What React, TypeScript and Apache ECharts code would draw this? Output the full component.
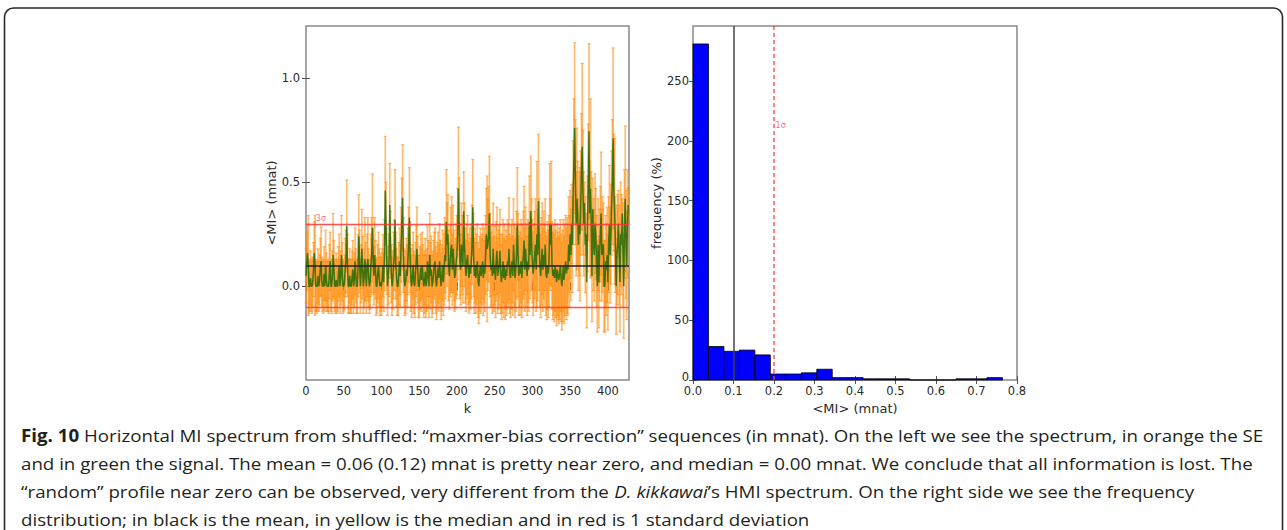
import React, { useEffect, useRef } from "react";
import * as echarts from "echarts";

// ---------- data: left panel (MI spectrum vs k) ----------
const signal = [
  0.05,0.12,0.16,0.1,0,0,0.04,0,0,0.02,0.08,0.16,0.1,0,0,0,0.05,0,0.03,0.09,
  0.12,0.02,0,0,0.06,0,0.1,0.03,0,0,0,0.07,0.12,0,0,0.05,0.15,0.08,0,0,
  0.03,0,0,0.06,0.1,0,0.04,0.15,0.07,0,0,0.02,0.09,0.12,0.29,0.1,0,0,0.05,0,
  0,0.04,0.08,0,0.03,0.12,0.05,0,0,0.1,0.24,0.12,0,0.06,0.18,0.09,0,0.04,0.13,0.07,
  0,0.1,0.13,0.04,0,0.02,0.1,0.15,0.28,0.12,0.05,0.15,0.08,0,0,0.06,0.1,0.04,0,0.02,
  0,0.04,0.1,0.02,0.15,0.46,0.3,0.12,0,0.05,0.1,0.39,0.2,0.06,0,0.03,0.1,0.15,0.32,0.1,
  0.04,0,0,0.06,0.12,0.05,0.2,0.3,0.425,0.15,0.04,0,0.02,0.08,0.05,0.12,0.2,0.33,0.14,0.03,
  0,0.05,0.1,0.02,0,0.06,0.12,0.18,0.08,0,0,0.04,0.09,0.03,0.1,0.05,0,0.02,0.07,0,
  0.03,0.12,0.06,0,0.15,0.05,0.08,0,0.02,0.06,0.1,0.12,0.03,0,0.05,0.09,0.04,0.12,0.06,0,
  0.04,0.1,0.02,0.08,0.15,0.12,0.31,0.2,0.25,0.1,0.05,0.12,0.18,0.2,0.08,0.18,0.1,0.04,0.06,0.12,
  0.15,0.25,0.47,0.3,0.12,0.08,0.2,0.15,0.1,0.36,0.2,0.1,0.05,0.12,0.15,0.08,0.04,0.1,0.06,0.12,
  0.2,0.38,0.15,0.05,0.1,0.04,0.08,0.12,0.03,0,0.06,0.1,0.05,0.08,0.12,0.04,0.1,0.06,0.15,0.25,
  0.18,0.2,0.25,0.35,0.15,0.08,0.1,0.05,0.18,0.06,0.1,0.03,0.12,0.17,0.05,0.08,0.1,0.17,0.06,0.02,
  0.06,0.12,0.04,0.1,0.03,0.08,0.05,0.12,0.1,0.18,0.06,0.04,0.09,0.12,0.05,0.2,0.1,0.04,0.08,0.15,
  0.3,0.15,0.05,0.1,0.06,0.12,0.04,0.1,0.15,0.22,0.08,0.18,0.1,0.05,0.12,0.08,0.31,0.15,0.36,0.2,
  0.12,0.06,0.1,0.15,0.2,0.08,0.25,0.15,0.41,0.2,0.1,0.05,0.12,0.18,0.08,0.15,0.1,0.2,0.06,0.04,
  0.1,0.06,0.12,0.3,0.2,0.3,0.1,0.05,0.08,0.04,0.1,0.06,0.02,0.08,0.05,0.03,0.06,0.1,0.04,0,
  0.05,0.1,0.03,0.08,0.12,0.06,0.1,0.08,0.2,0.12,0.25,0.15,0.3,0.2,0.45,0.6,0.76,0.5,0.3,0.42,
  0.35,0.2,0.3,0.25,0.4,0.55,0.67,0.45,0.3,0.4,0.2,0.25,0.02,0.3,0.5,0.745,0.35,0.47,0.3,0.05,
  0.37,0.2,0.15,0.3,0.25,0.12,0,0.2,0.02,0.15,0.25,0.35,0.15,0.2,0.2,0,0,0.12,0.08,0.15,
  0.02,0.2,0.3,0.15,0.25,0.4,0.5,0.71,0.45,0.36,0.2,0,0.15,0.2,0.3,0.15,0.02,0.25,0.2,0.35,
  0.15,0,0.3,0.42,0.2,0.1,0.3,0.39,
];

const stdErr = [
  0.13,0.14,0.14,0.24,0.13,0.12,0.13,0.12,0.13,0.12,0.13,0.15,0.24,0.12,0.13,0.12,0.13,0.12,0.12,0.14,
  0.165,0.12,0.12,0.13,0.13,0.12,0.17,0.13,0.12,0.12,0.13,0.13,0.14,0.12,0.13,0.12,0.2,0.14,0.12,0.13,
  0.13,0.13,0.12,0.13,0.15,0.13,0.13,0.19,0.14,0.13,0.12,0.13,0.14,0.15,0.22,0.15,0.13,0.13,0.13,0.13,
  0.13,0.13,0.14,0.13,0.13,0.16,0.13,0.13,0.13,0.15,0.2,0.15,0.13,0.14,0.19,0.15,0.13,0.14,0.2,0.14,
  0.13,0.15,0.2,0.14,0.13,0.13,0.15,0.18,0.26,0.16,0.14,0.18,0.14,0.14,0.13,0.14,0.16,0.14,0.14,0.14,
  0.14,0.14,0.15,0.14,0.17,0.26,0.2,0.16,0.14,0.14,0.15,0.2,0.16,0.14,0.14,0.14,0.16,0.17,0.24,0.16,
  0.14,0.14,0.14,0.15,0.16,0.15,0.18,0.22,0.255,0.18,0.14,0.14,0.15,0.15,0.15,0.16,0.18,0.24,0.17,0.15,
  0.15,0.15,0.16,0.15,0.15,0.15,0.17,0.2,0.16,0.15,0.15,0.15,0.16,0.15,0.16,0.15,0.15,0.15,0.16,0.15,
  0.15,0.17,0.16,0.15,0.2,0.16,0.16,0.15,0.15,0.16,0.16,0.16,0.16,0.16,0.16,0.17,0.16,0.18,0.16,0.16,
  0.16,0.17,0.16,0.17,0.18,0.18,0.25,0.2,0.19,0.17,0.16,0.17,0.2,0.23,0.17,0.21,0.17,0.16,0.17,0.18,
  0.19,0.22,0.295,0.22,0.18,0.17,0.2,0.19,0.18,0.19,0.2,0.18,0.17,0.18,0.19,0.17,0.17,0.18,0.17,0.18,
  0.19,0.23,0.2,0.18,0.18,0.17,0.17,0.18,0.18,0.18,0.18,0.18,0.18,0.17,0.18,0.18,0.18,0.18,0.19,0.22,
  0.35,0.22,0.23,0.275,0.2,0.18,0.19,0.18,0.22,0.18,0.19,0.18,0.19,0.21,0.18,0.19,0.19,0.2,0.19,0.18,
  0.19,0.2,0.19,0.2,0.19,0.19,0.19,0.2,0.2,0.245,0.19,0.19,0.2,0.2,0.19,0.22,0.2,0.19,0.2,0.21,
  0.27,0.2,0.19,0.2,0.2,0.2,0.19,0.2,0.21,0.26,0.2,0.2,0.2,0.19,0.2,0.2,0.22,0.21,0.265,0.22,
  0.2,0.2,0.2,0.21,0.22,0.2,0.35,0.22,0.32,0.22,0.2,0.2,0.21,0.22,0.2,0.21,0.2,0.22,0.2,0.2,
  0.21,0.21,0.22,0.29,0.22,0.3,0.21,0.21,0.22,0.21,0.22,0.21,0.21,0.22,0.21,0.21,0.22,0.22,0.21,0.21,
  0.22,0.22,0.21,0.22,0.22,0.22,0.23,0.22,0.23,0.22,0.21,0.22,0.19,0.23,0.25,0.3,0.41,0.3,0.25,0.34,
  0.25,0.22,0.25,0.32,0.25,0.28,0.4,0.3,0.25,0.1,0.23,0.1,0.22,0.23,0.28,0.42,0.25,0.43,0.25,0.22,
  0.15,0.22,0.22,0.24,0.22,0.22,0.22,0.22,0.22,0.22,0.23,0.295,0.22,0.23,0.2,0.22,0.22,0.22,0.22,0.23,
  0.23,0.23,0.28,0.23,0.24,0.25,0.3,0.435,0.28,0.35,0.23,0.23,0.24,0.24,0.16,0.24,0.24,0.25,0.24,0.07,
  0.25,0.25,0.26,0.35,0.26,0.26,0.26,0.08,
];

const leftMean = 0.1;
const leftSigmaLines = [0.3, -0.1];
const leftXTicks = [0, 50, 100, 150, 200, 250, 300, 350, 400];
const leftYTicks = [0, 0.5, 1.0];

// ---------- data: right panel (histogram) ----------
const histEdges = [0, 0.0382, 0.0764, 0.1146, 0.1528, 0.191, 0.2292, 0.2674, 0.3056, 0.3438, 0.382,
  0.4202, 0.4584, 0.4966, 0.5348, 0.573, 0.6112, 0.6494, 0.6876, 0.7258, 0.764];
const histCounts = [281, 28, 24, 25, 21, 5, 5, 6, 9, 2, 2, 1, 1, 1, 0, 0, 0, 1, 1, 2];
const rightMean = 0.1;
const rightSigma = 0.2;
const rightXTicks = [0, 0.1, 0.2, 0.3, 0.4, 0.5, 0.6, 0.7, 0.8];
const rightYTicks = [0, 50, 100, 150, 200, 250];

// ---------- caption ----------
type Seg = { t: string; b?: boolean; i?: boolean };
const captionLines: Seg[][] = [
  [{ t: "Fig. 10", b: true }, { t: " Horizontal MI spectrum from shuffled: \u201cmaxmer-bias correction\u201d sequences (in mnat). On the left we see the spectrum, in orange the SE" }],
  [{ t: "and in green the signal. The mean = 0.06 (0.12) mnat is pretty near zero, and median = 0.00 mnat. We conclude that all information is lost. The" }],
  [{ t: "\u201crandom\u201d profile near zero can be observed, very different from the " }, { t: "D. kikkawai", i: true }, { t: "\u2019s HMI spectrum. On the right side we see the frequency" }],
  [{ t: "distribution; in black is the mean, in yellow is the median and in red is 1 standard deviation" }],
];

const TICK_FONT = "'DejaVu Sans', sans-serif";
const CAP_FONT = "'Open Sans', 'Noto Sans', sans-serif";
const CAP_SIZE = 17;

export default function App() {
  const ref = useRef<HTMLDivElement>(null);
  useEffect(() => {
    document.body.style.margin = "0";
    const chart = echarts.init(ref.current!, null, { renderer: "svg" });

    // caption horizontal condensing to match the reference width
    const cv = document.createElement("canvas");
    const ctx = cv.getContext("2d")!;
    const measure = (s: Seg) => {
      ctx.font = `${s.i ? "italic " : ""}${s.b ? "bold " : ""}${CAP_SIZE}px ${CAP_FONT}`;
      return ctx.measureText(s.t).width;
    };
    const w1 = captionLines[0].reduce((a, s) => a + measure(s), 0);
    const capScale = (1264 - 21) / w1;
    const capY = [435, 463, 491, 519];

    const errData = signal.map((s, k) => [k, s - stdErr[k], s + stdErr[k]]);
    const lineData = signal.map((s, k) => [k, s]);
    const histData = histCounts.map((c, i) => [histEdges[i], histEdges[i + 1], c]);

    const tickStyle = { inside: true, length: 4, lineStyle: { color: "#555", width: 1 } };
    const labelStyle = { fontSize: 11.5, color: "#2a2a2a", fontFamily: TICK_FONT };
    const nameStyle = { fontSize: 13, color: "#2a2a2a", fontFamily: TICK_FONT };

    const option: any = {
      animation: false,
      backgroundColor: "#fff",
      grid: [
        { left: 306, top: 26, width: 323, height: 354, show: true, borderColor: "#888", borderWidth: 1.5, backgroundColor: "transparent" },
        { left: 693, top: 26, width: 324, height: 354, show: true, borderColor: "#888", borderWidth: 1.5, backgroundColor: "transparent" },
      ],
      xAxis: [
        {
          gridIndex: 0, type: "value", min: 0, max: 428, position: "bottom",
          axisLine: { show: false }, splitLine: { show: false },
          axisTick: { ...tickStyle, customValues: leftXTicks },
          axisLabel: { ...labelStyle, margin: 5, customValues: leftXTicks },
          name: "k", nameLocation: "middle", nameGap: 17, nameTextStyle: nameStyle,
        },
        {
          gridIndex: 0, type: "value", min: 0, max: 428, position: "top",
          axisLine: { show: false }, splitLine: { show: false },
          axisTick: { ...tickStyle, customValues: leftXTicks }, axisLabel: { show: false },
        },
        {
          gridIndex: 1, type: "value", min: 0, max: 0.8, position: "bottom",
          axisLine: { show: false }, splitLine: { show: false },
          axisTick: { ...tickStyle, customValues: rightXTicks },
          axisLabel: { ...labelStyle, margin: 5, customValues: rightXTicks, formatter: (v: number) => v.toFixed(1) },
          name: "<MI> (mnat)", nameLocation: "middle", nameGap: 16, nameTextStyle: nameStyle,
        },
        {
          gridIndex: 1, type: "value", min: 0, max: 0.8, position: "top",
          axisLine: { show: false }, splitLine: { show: false },
          axisTick: { ...tickStyle, customValues: rightXTicks }, axisLabel: { show: false },
        },
      ],
      yAxis: [
        {
          gridIndex: 0, type: "value", min: -0.45, max: 1.25, position: "left",
          axisLine: { show: false }, splitLine: { show: false },
          axisTick: { ...tickStyle, customValues: leftYTicks },
          axisLabel: { ...labelStyle, margin: 6, customValues: leftYTicks, formatter: (v: number) => v.toFixed(1) },
          name: "<MI> (mnat)", nameLocation: "middle", nameGap: 20, nameTextStyle: nameStyle,
        },
        {
          gridIndex: 0, type: "value", min: -0.45, max: 1.25, position: "right",
          axisLine: { show: false }, splitLine: { show: false },
          axisTick: { ...tickStyle, customValues: leftYTicks }, axisLabel: { show: false },
        },
        {
          gridIndex: 1, type: "value", min: 0, max: 296, position: "left",
          axisLine: { show: false }, splitLine: { show: false },
          axisTick: { ...tickStyle, customValues: rightYTicks },
          axisLabel: {
            ...labelStyle, margin: 4, customValues: rightYTicks,
            formatter: (v: number) => (v === 0 ? "{z|0}" : String(v)),
            rich: { z: { fontSize: 11.5, color: "#2a2a2a", fontFamily: TICK_FONT, padding: [0, 0, 6, 0] } },
          },
          name: "frequency (%)", nameLocation: "middle", nameGap: 24, nameTextStyle: nameStyle,
        },
        {
          gridIndex: 1, type: "value", min: 0, max: 296, position: "right",
          axisLine: { show: false }, splitLine: { show: false },
          axisTick: { ...tickStyle, customValues: rightYTicks }, axisLabel: { show: false },
        },
      ],
      series: [
        {
          type: "custom", name: "SE", xAxisIndex: 0, yAxisIndex: 0, data: errData,
          encode: { x: 0, y: [1, 2] }, silent: true,
          renderItem: (_p: any, api: any) => {
            const x = api.value(0);
            const top = api.coord([x, api.value(2)]);
            const bot = api.coord([x, api.value(1)]);
            const cw = 1.6;
            const st = { stroke: "rgba(255,135,0,0.55)", lineWidth: 1.7, fill: "none" };
            const cst = { stroke: "rgba(255,135,0,0.55)", lineWidth: 1.2, fill: "none" };
            return {
              type: "group",
              children: [
                { type: "line", shape: { x1: top[0], y1: top[1], x2: bot[0], y2: bot[1] }, style: st },
                { type: "line", shape: { x1: top[0] - cw, y1: top[1], x2: top[0] + cw, y2: top[1] }, style: cst },
                { type: "line", shape: { x1: bot[0] - cw, y1: bot[1], x2: bot[0] + cw, y2: bot[1] }, style: cst },
              ],
            };
          },
        },
        {
          type: "line", name: "signal", xAxisIndex: 0, yAxisIndex: 0, data: lineData,
          showSymbol: false, symbol: "none", silent: true,
          lineStyle: { color: "rgba(0,100,0,0.75)", width: 1.5 },
        },
        {
          type: "line", name: "refLeft", xAxisIndex: 0, yAxisIndex: 0, data: [], silent: true,
          markLine: {
            symbol: ["none", "none"], silent: true, animation: false,
            label: { show: false },
            data: [
              { yAxis: leftMean, lineStyle: { color: "#222", width: 1.5, type: "solid" } },
              ...leftSigmaLines.map((v) => ({ yAxis: v, lineStyle: { color: "rgba(255,50,50,0.85)", width: 1.3, type: "solid" } })),
            ],
          },
        },
        {
          type: "scatter", name: "label3s", xAxisIndex: 0, yAxisIndex: 0, symbolSize: 0, silent: true,
          data: [[13, leftSigmaLines[0] + 0.025]],
          label: { show: true, position: "right", distance: 0, formatter: "3\u03c3", color: "#ff4d4d", fontSize: 8, fontFamily: TICK_FONT },
        },
        {
          type: "custom", name: "hist", xAxisIndex: 2, yAxisIndex: 2, data: histData,
          encode: { x: [0, 1], y: 2 }, silent: true,
          renderItem: (_p: any, api: any) => {
            const a = api.coord([api.value(0), api.value(2)]);
            const b = api.coord([api.value(1), 0]);
            return {
              type: "rect",
              shape: { x: a[0], y: a[1], width: b[0] - a[0], height: b[1] - a[1] },
              style: { fill: "#0000ff", stroke: "#000", lineWidth: 0.8 },
            };
          },
        },
        {
          type: "line", name: "refRight", xAxisIndex: 2, yAxisIndex: 2, data: [], silent: true,
          markLine: {
            symbol: ["none", "none"], silent: true, animation: false,
            label: { show: false },
            data: [
              { xAxis: rightMean, lineStyle: { color: "#444", width: 1.5, type: "solid" } },
              { xAxis: rightSigma, lineStyle: { color: "rgba(255,60,60,0.85)", width: 1.5, type: [4, 3] } },
            ],
          },
        },
        {
          type: "scatter", name: "label1s", xAxisIndex: 2, yAxisIndex: 2, symbolSize: 0, silent: true,
          data: [[rightSigma + 0.004, 213]],
          label: { show: true, position: "right", distance: 0, formatter: "1\u03c3", color: "#ff4d4d", fontSize: 8, fontFamily: TICK_FONT },
        },
      ],
      graphic: [
        {
          type: "rect", silent: true, z: 100,
          shape: { x: 4.5, y: 8, width: 1278, height: 600, r: 9 },
          style: { fill: "none", stroke: "#2a2a2a", lineWidth: 1.6 },
        },
        ...captionLines.map((segs, li) => ({
          type: "text", silent: true, z: 100,
          x: 21, y: capY[li], scaleX: capScale, scaleY: 1,
          style: {
            text: segs.map((s) => (s.b ? `{b|${s.t}}` : s.i ? `{i|${s.t}}` : s.t)).join(""),
            fontSize: CAP_SIZE, fontFamily: CAP_FONT, fill: "#231f20",
            verticalAlign: "middle", align: "left",
            rich: {
              b: { fontWeight: "bold", fontSize: CAP_SIZE, fontFamily: CAP_FONT, fill: "#231f20" },
              i: { fontStyle: "italic", fontSize: CAP_SIZE, fontFamily: CAP_FONT, fill: "#231f20" },
            },
          },
        })),
      ],
    };
    chart.setOption(option);
    return () => chart.dispose();
  }, []);
  return <div ref={ref} style={{ width: 1287, height: 530 }} />;
}
